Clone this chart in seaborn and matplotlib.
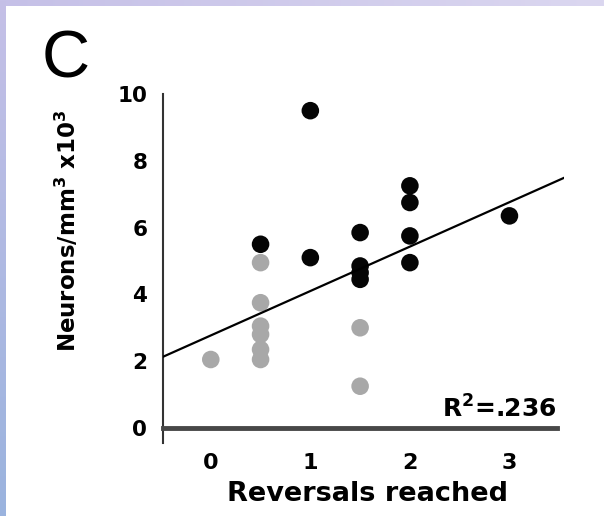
import numpy as np
import pandas as pd
import matplotlib
matplotlib.use("Agg")
import matplotlib.pyplot as plt
import seaborn as sns

# ---- data ----
black_x = [0.5, 1, 1, 1.5, 1.5, 1.5, 1.5, 2, 2, 2, 2, 3]
black_y = [5.5, 9.5, 5.1, 5.85, 4.85, 4.65, 4.45, 7.25, 6.75, 5.75, 4.95, 6.35]
gray_x = [0, 0.5, 0.5, 0.5, 0.5, 0.5, 0.5, 1.5, 1.5]
gray_y = [2.05, 4.95, 3.75, 3.05, 2.8, 2.35, 2.05, 3.0, 1.25]

fit_intercept = 2.77
fit_slope = 1.33
r2_text = r"R$^{\mathbf{2}}$=.236"

x_ticks = [0, 1, 2, 3]
x_minor = [0.5, 1.5, 2.5, 3.5]
y_ticks = [0, 2, 4, 6, 8, 10]
x_label = "Reversals reached"
y_label = r"Neurons/mm$^{\mathbf{3}}$ x10$^{\mathbf{3}}$"
panel_letter = "C"

df = pd.DataFrame({
    "x": black_x + gray_x,
    "y": black_y + gray_y,
    "group": ["a"] * len(black_x) + ["b"] * len(gray_x),
})

sns.set_theme(style="white")
plt.rcParams["font.family"] = ["DejaVu Sans"]
plt.rcParams["font.weight"] = "bold"
plt.rcParams["mathtext.fontset"] = "dejavusans"
plt.rcParams["text.color"] = "black"
plt.rcParams["axes.labelcolor"] = "black"
plt.rcParams["xtick.labelcolor"] = "black"
plt.rcParams["ytick.labelcolor"] = "black"

fig = plt.figure(figsize=(6.04, 5.16), dpi=100)

# decorative frame (gradient strips on top and left)
W, H = 604, 516
bg = np.ones((H, W, 3))
tl = np.array([197, 192, 231]) / 255
tr = np.array([219, 215, 240]) / 255
bl = np.array([154, 179, 222]) / 255
t = np.linspace(0, 1, W)[:, None]
bg[:6, :, :] = (tl * (1 - t) + tr * t)[None, :, :]
s = np.linspace(0, 1, H)[:, None]
bg[:, :6, :] = (tl * (1 - s) + bl * s)[:, None, :]
ax_bg = fig.add_axes([0, 0, 1, 1], zorder=-10)
ax_bg.imshow(bg, aspect="auto", interpolation="nearest")
ax_bg.axis("off")

ax = fig.add_axes([163 / W, (H - 443) / H, (564.2 - 163) / W, (443 - 92.3) / H])
ax.set_facecolor("none")

sns.scatterplot(data=df, x="x", y="y", hue="group",
                palette={"a": "#050505", "b": "#a8a8a8"},
                s=160, edgecolor="none", legend=False, ax=ax, zorder=3)

ax.set_xlim(-0.48, 3.55)
ax.set_ylim(-0.45, 10.05)
ax.axline((0, fit_intercept), slope=fit_slope, color="black", lw=1.6, zorder=4)

# axes styling
for side in ["top", "right"]:
    ax.spines[side].set_visible(False)
ax.spines["bottom"].set_position(("data", 0))
ax.spines["bottom"].set_bounds(-0.48, 3.48)
ax.spines["bottom"].set_linewidth(3.5)
ax.spines["bottom"].set_color("#484848")
ax.spines["left"].set_bounds(-0.45, 10)
ax.spines["left"].set_linewidth(1.5)
ax.spines["left"].set_color("#333333")

ax.set_xticks(x_ticks)
ax.set_xticks(x_minor, minor=True)
ax.set_yticks(y_ticks)
ax.tick_params(axis="x", which="both", direction="out", length=6, width=1.2,
               color="#b0b0b0", pad=12, labelsize=16)
ax.tick_params(axis="y", direction="out", length=4.3, width=1.0,
               color="#b0b0b0", pad=7, labelsize=15.5)
for lab in ax.get_xticklabels() + ax.get_yticklabels():
    lab.set_fontweight("bold")
    lab.set_color("black")

# thick tick at y=0 (x-axis extension to the left)
t0 = ax.yaxis.get_major_ticks()[0]
t0.tick1line.set_markeredgewidth(3.5)
t0.tick1line.set_markersize(7.2)
t0.tick1line.set_color("#484848")

ax.set_xlabel(x_label, fontsize=19.5, fontweight="bold", color="black")
ax.xaxis.set_label_coords(0.51, -0.108)
ax.set_ylabel(y_label, fontsize=16.5, fontweight="bold", color="black")
ax.yaxis.set_label_coords(-0.204, 0.605)

ax.text(0.982, 0.0713, r2_text, transform=ax.transAxes, ha="right",
        va="baseline", fontsize=18, fontweight="bold", color="black")

fig.text(66 / W, (H - 77) / H, panel_letter, fontsize=48, family="Liberation Sans",
         fontweight="normal", ha="center", va="baseline", color="black")

fig.savefig("out.png", dpi=100)
